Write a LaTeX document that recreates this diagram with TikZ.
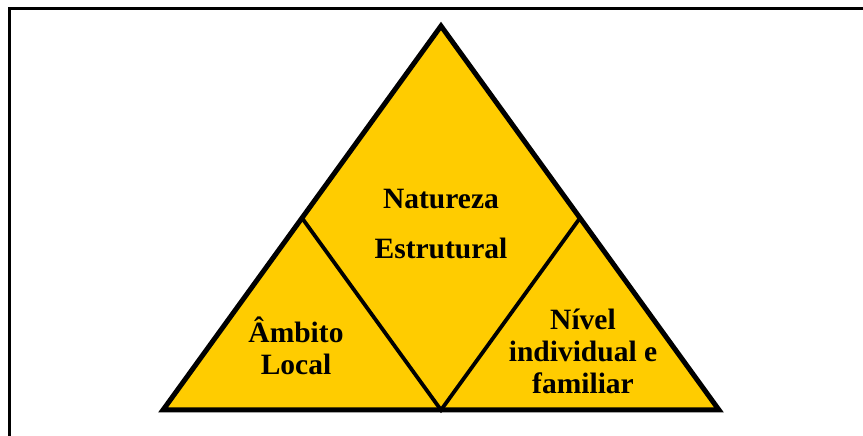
\documentclass[tikz,border=0pt]{standalone}
\usepackage{fontspec}
\setmainfont{Liberation Serif}
\usetikzlibrary{calc}
\definecolor{tri}{HTML}{FFCC00}
\begin{document}
\begin{tikzpicture}[x=1pt,y=1pt,
  outer/.style={draw=black,line width=5pt,fill=tri,line join=miter},
  inner/.style={draw=black,line width=3.8pt},
  frame/.style={draw=black,line width=2.6pt},
  lbl/.style={font=\bfseries\fontsize{29.5}{32}\selectfont,align=center,inner sep=0pt}]
\useasboundingbox (0,0) rectangle (863,436);
\coordinate (F1) at (9.7,0);
\coordinate (F2) at (9.7,427.3);
\coordinate (F3) at (863,427.3);
\draw[frame] (F1) -- (F2) -- (F3);
\coordinate (A) at (441,410);
\coordinate (B) at (163,26);
\coordinate (C) at (719,26);
\coordinate (M) at (441,26);
\coordinate (L) at ($(A)!0.5!(B)$);
\coordinate (R) at ($(A)!0.5!(C)$);
\draw[outer] (A) -- (B) -- (C) -- cycle;
\draw[inner] (L) -- (M) -- (R);
\node[lbl,font=\bfseries\fontsize{29.5}{50}\selectfont] (nat) at (441,212) {Natureza\\Estrutural};
\node[lbl] (amb) at (296,90) {Âmbito\\Local};
\node[lbl] (niv) at (583,85) {Nível\\individual e\\familiar};
\end{tikzpicture}
\end{document}
